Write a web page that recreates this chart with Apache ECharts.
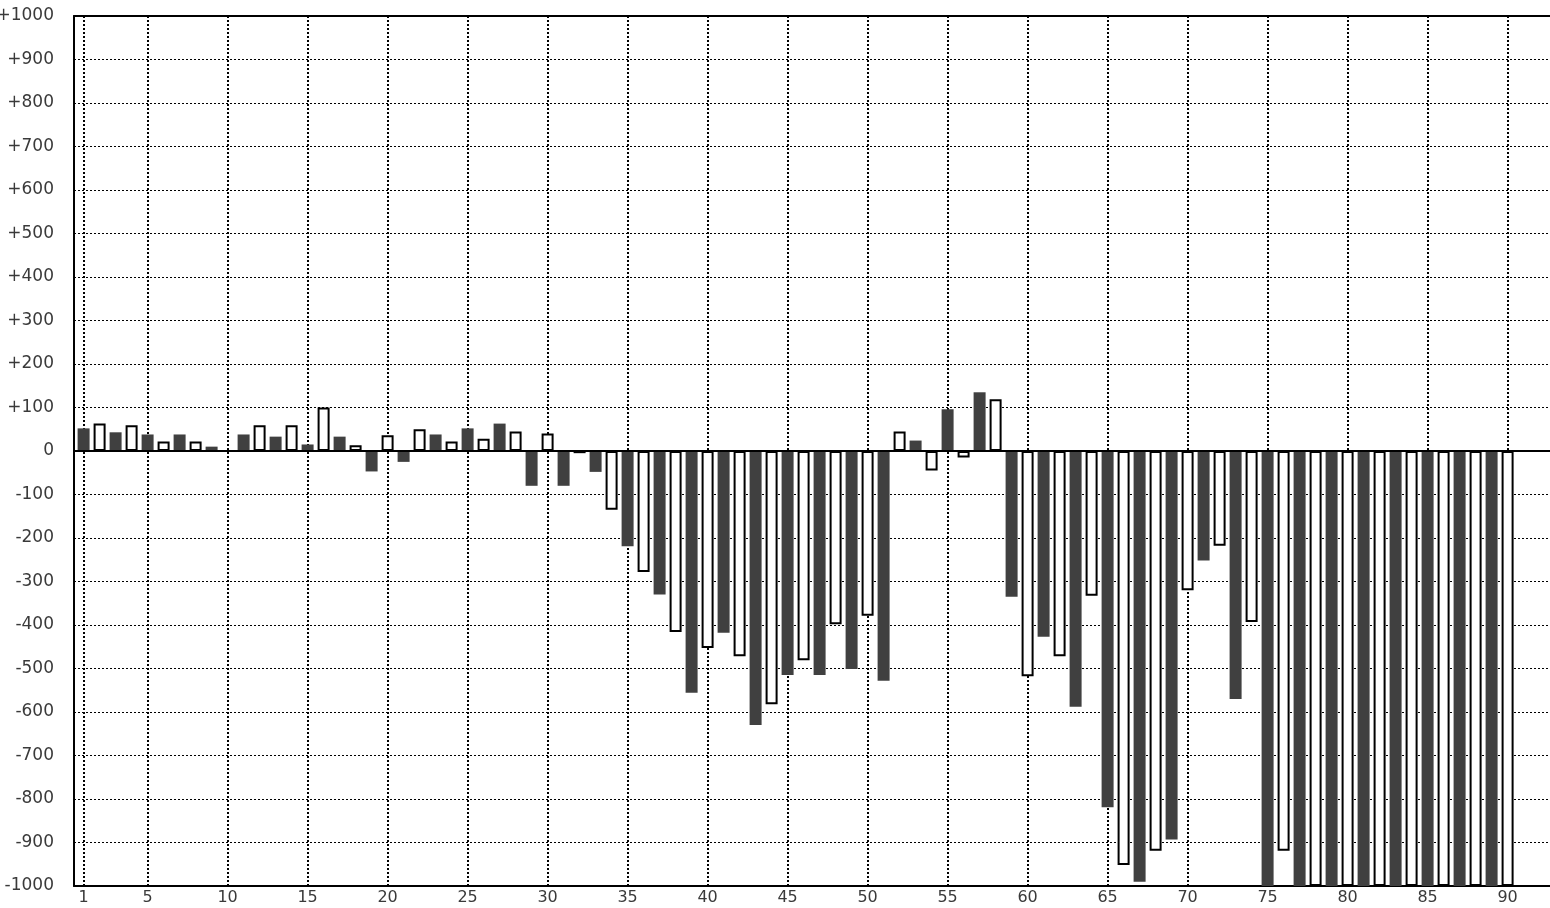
<!DOCTYPE html>
<html>
<head>
<meta charset="utf-8">
<script src="https://cdn.jsdelivr.net/npm/echarts@6/dist/echarts.min.js"></script>
<style>
html,body{margin:0;padding:0;background:#fff;}
#chart{width:1550px;height:908px;}
</style>
</head>
<body>
<div id="chart"></div>
<script>
// Categories 1..90
const categories = [];
for (let i = 1; i <= 90; i++) categories.push(i);

const values = [
  52, 63, 43, 59, 38, 22, 38, 22, 10, 0,
  38, 59, 33, 59, 15, 100, 33, 13, -47, 36,
  -25, 50, 38, 22, 52, 28, 63, 45, -80, 40,
  -80, -5, -48, -135, -219, -278, -330, -416, -556, -453,
  -418, -472, -630, -582, -515, -481, -515, -398, -501, -379,
  -528, 45, 24, -45, 96, -15, 135, 119, -335, -518,
  -427, -472, -588, -333, -819, -952, -990, -919, -893, -320,
  -252, -218, -570, -393, -1000, -919, -1000, -1000, -1000, -1000,
  -1000, -1000, -1000, -1000, -1000, -1000, -1000, -1000, -1000, -1000
];

const xTickLabels = [1, 5, 10, 15, 20, 25, 30, 35, 40, 45, 50, 55, 60, 65, 70, 75, 80, 85, 90];
const yTicks = [-1000, -900, -800, -700, -600, -500, -400, -300, -200, -100, 0, 100, 200, 300, 400, 500, 600, 700, 800, 900, 1000];

const DARK = '#404040';
const barData = categories.map((c, i) => ({
  value: [c, values[i]],
  itemStyle: (c % 2 === 1)
    ? { color: DARK, borderWidth: 0 }
    : { color: '#ffffff', borderColor: '#000000', borderWidth: 2 }
}));

const chart = echarts.init(document.getElementById('chart'), null, { renderer: 'canvas' });
chart.setOption({
  animation: false,
  backgroundColor: '#ffffff',
  grid: { left: 74, right: 0, top: 16, bottom: 22, containLabel: false, outerBoundsMode: 'none' },
  xAxis: [
    {
      type: 'value', min: 0.4, max: 92.65, position: 'bottom',
      axisLine: { show: true, onZero: false, lineStyle: { color: '#000', width: 2 } },
      axisTick: { show: false },
      splitLine: { show: false },
      axisLabel: {
        customValues: xTickLabels,
        color: '#3a3a3a', fontFamily: 'DejaVu Sans', fontSize: 16, margin: 4,
        formatter: v => String(v)
      }
    },
    {
      type: 'value', min: 0.4, max: 92.65, position: 'top',
      axisLine: { show: true, onZero: false, lineStyle: { color: '#000', width: 2 } },
      axisTick: { show: false }, axisLabel: { show: false }, splitLine: { show: false }
    }
  ],
  yAxis: {
    type: 'value', min: -1000, max: 1000, interval: 100,
    axisLine: { show: true, onZero: false, lineStyle: { color: '#000', width: 2 } },
    axisTick: { show: false },
    splitLine: { show: true, lineStyle: { color: '#000', width: 1, type: [2, 2] } },
    axisLabel: {
      color: '#3a3a3a', fontFamily: 'DejaVu Sans', fontSize: 17, margin: 20,
      formatter: v => (v > 0 ? '+' + v : String(v))
    }
  },
  series: [
    {
      type: 'line', data: [], z: 1, silent: true,
      markLine: {
        silent: true, symbol: 'none', animation: false, z: 1,
        label: { show: false },
        lineStyle: { color: '#000', width: 2, type: [2, 2] },
        data: xTickLabels.map(v => ({ xAxis: v }))
      }
    },
    {
      type: 'bar', data: barData, barWidth: 12, z: 3,
      markLine: {
        silent: true, symbol: 'none', animation: false, z: 4,
        label: { show: false },
        lineStyle: { color: '#000', width: 2, type: 'solid' },
        data: [{ yAxis: 0 }]
      }
    }
  ]
});
</script>
</body>
</html>
